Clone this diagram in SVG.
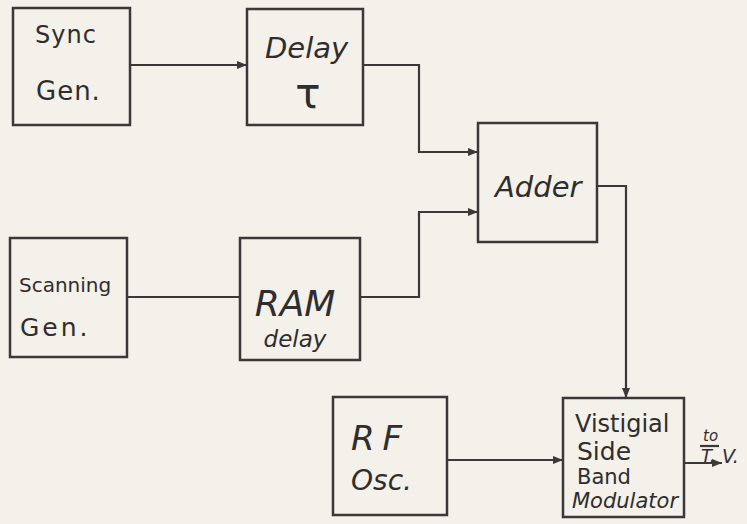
<svg xmlns="http://www.w3.org/2000/svg" width="747" height="524" viewBox="0 0 747 524">
<style>
.box{fill:none;stroke:#3a3838;stroke-width:2.5}
.ln{fill:none;stroke:#3a3838;stroke-width:2.2}
.t{font-family:"DejaVu Sans",sans-serif;fill:#2f2d2d;font-weight:normal}
</style>
<defs>
<marker id="ah" viewBox="0 0 10 8" refX="10" refY="4" markerWidth="10" markerHeight="8" markerUnits="userSpaceOnUse" orient="auto">
<path d="M0,0 L10,4 L0,8 Z" fill="#3a3838"/>
</marker>
</defs>
<rect width="747" height="524" fill="#f4f0ea"/>
<g id="sync">
<rect class="box" x="13" y="8" width="117" height="117"/>
<text class="t" x="35" y="43" font-size="24" letter-spacing="1">Sync</text>
<text class="t" x="36" y="100" font-size="26" letter-spacing="1">Gen.</text>
</g>
<g id="delay">
<rect class="box" x="247" y="9" width="116" height="116"/>
<text class="t" x="265" y="58" font-size="29" font-style="italic">Delay</text>
<text class="t" x="308" y="108" font-size="42" text-anchor="middle">τ</text>
</g>
<g id="adder">
<rect class="box" x="478" y="123" width="119" height="119"/>
<text class="t" x="495" y="197" font-size="29" font-style="italic">Adder</text>
</g>
<g id="scanning">
<rect class="box" x="10" y="238" width="117" height="119"/>
<text class="t" x="19" y="292" font-size="20">Scanning</text>
<text class="t" x="20" y="336" font-size="25" letter-spacing="3">Gen.</text>
</g>
<g id="ram">
<rect class="box" x="240" y="238" width="120" height="122"/>
<text class="t" x="295" y="316" font-size="36" font-style="italic" text-anchor="middle">RAM</text>
<text class="t" x="295" y="347" font-size="23" font-style="italic" text-anchor="middle">delay</text>
</g>
<g id="rfosc">
<rect class="box" x="333" y="397" width="114" height="118"/>
<text class="t" x="351" y="450" font-size="34" letter-spacing="8" font-style="italic">RF</text>
<text class="t" x="351" y="490" font-size="28" font-style="italic">Osc.</text>
</g>
<g id="vsb">
<rect class="box" x="563" y="398" width="121" height="119"/>
<text class="t" x="575" y="432" font-size="24">Vistigial</text>
<text class="t" x="577" y="460" font-size="25">Side</text>
<text class="t" x="577" y="484" font-size="21">Band</text>
<text class="t" x="572" y="508" font-size="21" font-style="italic">Modulator</text>
</g>
<g id="output">
<text class="t" x="703" y="441" font-size="15" font-style="italic">to</text>
<line class="ln" x1="700" y1="446" x2="719" y2="446"/>
<text class="t" x="701" y="462" font-size="18" font-style="italic">T.</text>
<text class="t" x="722" y="463" font-size="19" font-style="italic">V.</text>
</g>
<g id="connectors">
<path class="ln" d="M130,65 H247" marker-end="url(#ah)"/>
<path class="ln" d="M363,65 H419 V152 H478" marker-end="url(#ah)"/>
<path class="ln" d="M127,297 H240"/>
<path class="ln" d="M360,297 H419 V212 H478" marker-end="url(#ah)"/>
<path class="ln" d="M597,186 H626 V398" marker-end="url(#ah)"/>
<path class="ln" d="M447,460 H563" marker-end="url(#ah)"/>
<path class="ln" d="M684,463 H722" marker-end="url(#ah)"/>
</g>
</svg>
